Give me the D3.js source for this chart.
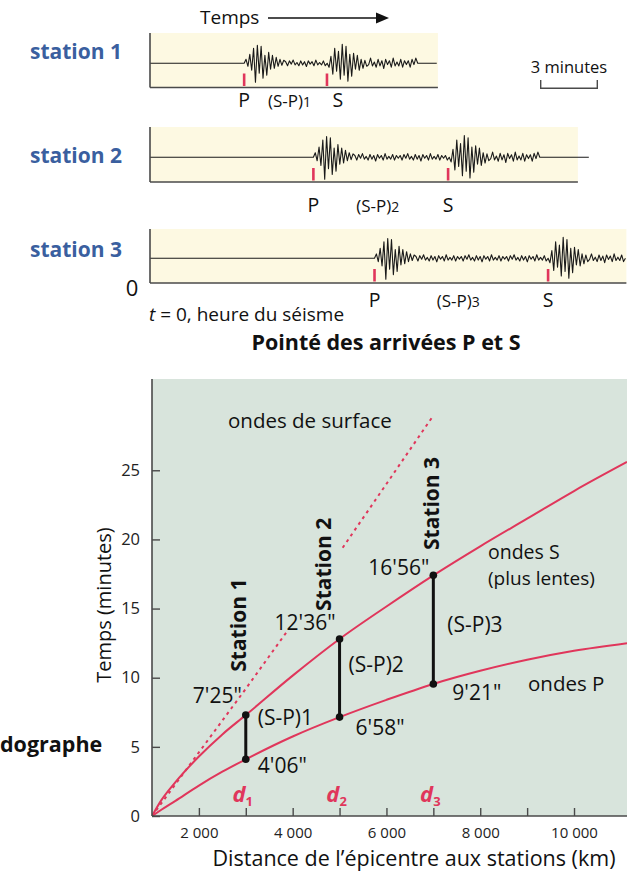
<!DOCTYPE html>
<html><head><meta charset="utf-8">
<script src="https://cdn.jsdelivr.net/npm/d3@7"></script>
<style>
html,body{margin:0;padding:0;background:#fff;}
svg text{font-family:"Open Sans","Noto Sans",sans-serif;}
</style></head>
<body>
<svg id="c" width="636" height="875"></svg>
<script>
// ---------- DATA ----------
// Seismograms (time in minutes)
const stationNames = ["station 1","station 2","station 3"];
const spIndex = ["1","2","3"];
const pArrivalMin = [4.99, 8.66, 11.9];
const sArrivalMin = [9.38, 15.8, 21.1];
const codaEndMin = [14.1, 20.6, 25.2];
const traceEndMin = [15.2, 23.26, 25.2];
const panelEndMin = [15.26, 22.68, 25.25];
const scaleBarMin = 3;
// hand-read wiggle shapes (relative amplitude)
const pBurst = [0,4,-3,9,-7,15,-19,18,-10,17,-15,8,-12,11,-6,8,-5,6,-3,4,-2,3];
const sBurst = [0,-4,7,-11,15,-8,12,-16,19,-12,17,-18,9,-13,10,-6,8,-7,4,-5,3,-3];
const coda = [2,-3,3,-1,4,-2,1,-3,3,-2,2,-4,3,-1,2,-3,4,-2,1,-2,3,-3,2,-1];

// Hodograph (distance km, time minutes)
const distKm = [1000,1200,1500,2000,2500,3000,4000,5000,6000,7000,8000,9000,10000,11130];
const sWaveMin = [0,1.15,2.45,4.3,5.9,7.3,10.15,12.8,15.15,17.4,19.5,21.5,23.5,25.6];
const pWaveMin = [0,0.45,1.1,2.2,3.2,4.1,5.75,7.15,8.4,9.55,10.5,11.3,11.95,12.5];
const surfKmA = [1000,2000,3000,3870];
const surfMinA = [0,4.6,9.2,13.3];
const surfKmB = [5066,6968];
const surfMinB = [19.4,28.8];
const stationKm = [3000,5000,7000];
const stationS = [7.3,12.8,17.4];
const stationP = [4.1,7.15,9.55];
const sTimeLabels = ["7'25\"","12'36\"","16'56\""];
const pTimeLabels = ["4'06\"","6'58\"","9'21\""];
const yTicks = [0,5,10,15,20,25];
const xTicks = [2000,3000,4000,5000,6000,7000,8000,9000,10000];

// ---------- STYLE / LAYOUT ----------
const RED = "#e0365b", BLUE = "#3a5f9f", GREEN = "#d8e4dc", YELLOW = "#fdf9e2", AX = "#4a4a4a";
const svg = d3.select("#c");

// ===== Seismograms =====
const t = d3.scaleLinear().domain([0, scaleBarMin]).range([150, 206.6]);
const panelTop = [33, 127, 229], panelBottom = [87.5, 182, 283], baseY = [63.3, 157.3, 258.3];
const labelBase = [107, 212, 307], nameBase = [59, 163, 257];
const ampScale = [1.0, 1.15, 1.1], codaAfterS = [1.3, 1.3, 1.1];
const dt = 0.1;

// Temps arrow
svg.append("text").attr("x",200).attr("y",24).attr("font-size",19).attr("fill","#111").text("Temps");
svg.append("line").attr("x1",268).attr("x2",378).attr("y1",18).attr("y2",18).attr("stroke","#111").attr("stroke-width",1.6);
svg.append("path").attr("d","M376,12.5 L389,18 L376,23.5 Z").attr("fill","#111");

stationNames.forEach((name,i)=>{
  const g = svg.append("g");
  const amp = d3.scaleLinear().domain([-20,20]).range([baseY[i]+20, baseY[i]-20]);
  g.append("rect").attr("x",t(0)).attr("y",panelTop[i]).attr("width",t(panelEndMin[i])-t(0))
    .attr("height",panelBottom[i]-panelTop[i]).attr("fill",YELLOW);
  // trace
  const pts = [[0,0]];
  let tt = pArrivalMin[i]; pts.push([tt,0]);
  pBurst.forEach(a=>{pts.push([tt,a*ampScale[i]]); tt+=dt;});
  let k=0;
  while(tt < sArrivalMin[i]){pts.push([tt,coda[k%coda.length]*ampScale[i]*0.8]); tt+=dt; k++;}
  sBurst.forEach(a=>{pts.push([tt,a*ampScale[i]]); tt+=dt;});
  k=3;
  while(tt < codaEndMin[i]){pts.push([tt,coda[k%coda.length]*codaAfterS[i]]); tt+=dt; k++;}
  pts.push([Math.min(tt,traceEndMin[i]),0]); pts.push([traceEndMin[i],0]);
  g.append("path").datum(pts).attr("fill","none").attr("stroke","#1a1a1a").attr("stroke-width",1.1)
    .attr("stroke-linejoin","round")
    .attr("d", d3.line().x(d=>t(d[0])).y(d=>amp(d[1])));
  // axes
  g.append("line").attr("x1",t(0)).attr("x2",t(0)).attr("y1",panelTop[i]).attr("y2",panelBottom[i]).attr("stroke",AX).attr("stroke-width",1.6);
  g.append("line").attr("x1",t(0)).attr("x2",t(panelEndMin[i])).attr("y1",panelBottom[i]).attr("y2",panelBottom[i]).attr("stroke",AX).attr("stroke-width",1.6);
  // arrival ticks
  [pArrivalMin[i], sArrivalMin[i]].forEach(m=>{
    g.append("line").attr("x1",t(m)).attr("x2",t(m)).attr("y1",panelBottom[i]-14).attr("y2",panelBottom[i]-1.5)
      .attr("stroke",RED).attr("stroke-width",2.6);
  });
  // labels
  g.append("text").attr("x",30).attr("y",nameBase[i]).attr("font-size",21).attr("font-weight",700).attr("fill",BLUE).text(name);
  g.append("text").attr("x",t(pArrivalMin[i])).attr("y",labelBase[i]).attr("text-anchor","middle").attr("font-size",19.5).attr("fill","#111").text("P");
  g.append("text").attr("x",t(sArrivalMin[i])+(i===0?11:0)).attr("y",labelBase[i]).attr("text-anchor","middle").attr("font-size",19.5).attr("fill","#111").text("S");
  const sp = g.append("text").attr("x",(t(pArrivalMin[i])+t(sArrivalMin[i]))/2+(i===0?4:-3)).attr("y",labelBase[i])
    .attr("text-anchor","middle").attr("font-size",17).attr("fill","#111");
  sp.append("tspan").text("(S-P)");
  sp.append("tspan").attr("font-size",14).text(spIndex[i]);
});
// scale bar
{
  const x0 = 540.7, w = t(scaleBarMin)-t(0);
  svg.append("path").attr("d",`M${x0},80 V88.3 H${x0+w} V80`).attr("fill","none").attr("stroke",AX).attr("stroke-width",1.4);
  svg.append("text").attr("x",x0+w/2).attr("y",73).attr("text-anchor","middle").attr("font-size",16.5).attr("fill","#111").text("3 minutes");
}
svg.append("text").attr("x",132).attr("y",296).attr("text-anchor","middle").attr("font-size",22).attr("fill","#111").text("0");
{
  const tx = svg.append("text").attr("x",149).attr("y",321).attr("font-size",19).attr("fill","#111");
  tx.append("tspan").attr("font-style","italic").text("t");
  tx.append("tspan").text(" = 0, heure du séisme");
}
svg.append("text").attr("x",386).attr("y",350).attr("text-anchor","middle").attr("font-size",21.5).attr("font-weight",700).attr("fill","#111").text("Pointé des arrivées P et S");

// ===== Hodograph =====
const x = d3.scaleLinear().domain([1000,11130]).range([152,627]);
const y = d3.scaleLinear().domain([0,31.6]).range([816,379]);
svg.append("rect").attr("x",x(1000)).attr("y",y(31.6)).attr("width",x(11130)-x(1000)).attr("height",y(0)-y(31.6)).attr("fill",GREEN);

svg.append("clipPath").attr("id","pc").append("rect")
  .attr("x",x(1000)).attr("y",y(31.6)).attr("width",x(11130)-x(1000)).attr("height",y(0)-y(31.6));
const plot = svg.append("g").attr("clip-path","url(#pc)");
const line = d3.line().x(d=>x(d[0])).y(d=>y(d[1])).curve(d3.curveMonotoneX);
const straight = d3.line().x(d=>x(d[0])).y(d=>y(d[1]));

plot.append("path").datum(surfKmA.map((k,i)=>[k,surfMinA[i]])).attr("d",straight).attr("fill","none")
  .attr("stroke",RED).attr("stroke-width",2).attr("stroke-dasharray","3,4");
plot.append("path").datum(surfKmB.map((k,i)=>[k,surfMinB[i]])).attr("d",straight).attr("fill","none")
  .attr("stroke",RED).attr("stroke-width",2).attr("stroke-dasharray","3,4");
plot.append("path").datum(distKm.map((k,i)=>[k,sWaveMin[i]])).attr("d",line).attr("fill","none").attr("stroke",RED).attr("stroke-width",2);
plot.append("path").datum(distKm.map((k,i)=>[k,pWaveMin[i]])).attr("d",line).attr("fill","none").attr("stroke",RED).attr("stroke-width",2);

// axes
const fmt = d3.formatLocale({decimal:",",thousands:" ",grouping:[3],currency:["","€"]}).format(",d");
const xAxis = svg.append("g").attr("transform",`translate(0,${y(0)})`)
  .call(d3.axisBottom(x).tickValues(xTicks).tickSize(-8).tickPadding(11.5)
    .tickFormat(d=> d%2000===0 ? fmt(d) : ""));
const yAxis = svg.append("g").attr("transform",`translate(${x(1000)},0)`)
  .call(d3.axisLeft(y).tickValues(yTicks).tickSize(-8).tickPadding(12));
[xAxis,yAxis].forEach(a=>{
  a.select(".domain").attr("stroke",AX).attr("stroke-width",1.6);
  a.selectAll(".tick line").attr("stroke",AX).attr("stroke-width",1.4);
  a.selectAll("text").attr("fill","#222").style("font-family","'Open Sans','Noto Sans',sans-serif");
});
xAxis.selectAll("text").attr("font-size",15);
yAxis.selectAll("text").attr("font-size",16.5);
xAxis.select(".domain").attr("d",`M${x(1000)},0H${x(11130)}`);
yAxis.select(".domain").attr("d",`M0,${y(0)}V${y(31.6)}`);

// station bars
const sg = svg.append("g");
stationKm.forEach((k,i)=>{
  sg.append("line").attr("x1",x(k)).attr("x2",x(k)).attr("y1",y(stationS[i])).attr("y2",y(stationP[i]))
    .attr("stroke","#111").attr("stroke-width",3);
  [stationS[i],stationP[i]].forEach(v=> sg.append("circle").attr("cx",x(k)).attr("cy",y(v)).attr("r",3.8).attr("fill","#111"));
});

const txt = (xx,yy,s,opt={})=>{
  const e = svg.append("text").attr("x",xx).attr("y",yy).attr("font-size",opt.size||18).attr("fill",opt.fill||"#111")
    .attr("text-anchor",opt.anchor||"start").attr("font-weight",opt.weight||400).text(s);
  if(opt.rotate) e.attr("transform",`rotate(-90,${xx},${yy})`);
  return e;
};
const sLabDx = [-4,-4,-4], sLabDy = [-12,-9,0];
const pLabDx = [12,16,19], pLabDy = [14,18,16];
stationKm.forEach((k,i)=>{
  txt(x(k)+sLabDx[i], y(stationS[i])+sLabDy[i], sTimeLabels[i], {anchor:"end",size:21});
  txt(x(k)+pLabDx[i], y(stationP[i])+pLabDy[i], pTimeLabels[i], {size:21});
});
const spDx = [12,9,14], spMid = [6.55,10.4,13.3];
stationKm.forEach((k,i)=>{
  txt(x(k)+spDx[i], y(spMid[i]), "(S-P)"+spIndex[i], {size:21});
});
const stLabDx = [0,-9,6], stLabMid = [13.8,18.2,22.6];
stationKm.forEach((k,i)=>{
  txt(x(k)+stLabDx[i], y(stLabMid[i]), "Station "+spIndex[i], {size:21, weight:700, anchor:"middle", rotate:true});
});
stationKm.forEach((k,i)=>{
  const e = svg.append("text").attr("x",x(k)-3).attr("y",802).attr("text-anchor","middle").attr("fill",RED).attr("font-weight",700);
  e.append("tspan").attr("font-style","italic").attr("font-size",22).text("d");
  e.append("tspan").attr("font-size",13).attr("dy",4).text(spIndex[i]);
});
txt(228, 428, "ondes de surface", {size:20.5});
txt(488, 559, "ondes S", {size:19.5});
txt(488, 585, "(plus lentes)", {size:19});
txt(528, 691, "ondes P", {size:20.5});
txt(0, 752, "dographe", {size:21.5, weight:700});
txt(111, 605, "Temps (minutes)", {size:20, anchor:"middle", rotate:true});
txt(414, 866, "Distance de l’épicentre aux stations (km)", {size:21.5, anchor:"middle"});
</script>
</body></html>
